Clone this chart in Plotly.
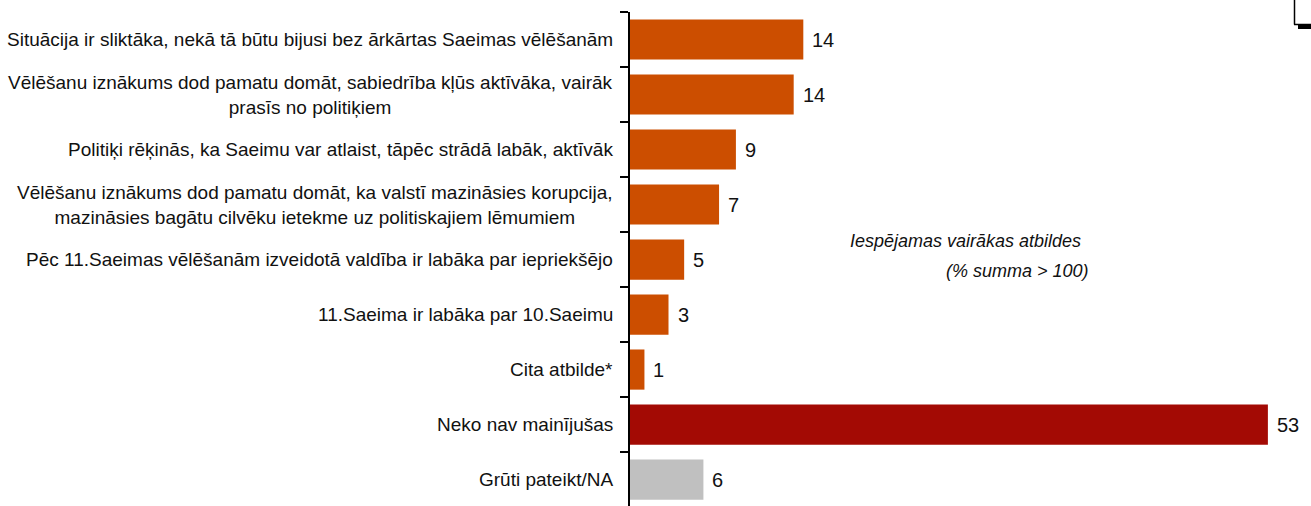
import plotly.graph_objects as go

categories = [
    "Situācija ir sliktāka, nekā tā būtu bijusi bez ārkārtas Saeimas vēlēšanām",
    "Vēlēšanu iznākums dod pamatu domāt, sabiedrība kļūs aktīvāka, vairāk<br>prasīs no politiķiem",
    "Politiķi rēķinās, ka Saeimu var atlaist, tāpēc strādā labāk, aktīvāk",
    "Vēlēšanu iznākums dod pamatu domāt, ka valstī mazināsies korupcija,<br>mazināsies bagātu cilvēku ietekme uz politiskajiem lēmumiem",
    "Pēc 11.Saeimas vēlēšanām izveidotā valdība ir labāka par iepriekšējo",
    "11.Saeima ir labāka par 10.Saeimu",
    "Cita atbilde*",
    "Neko nav mainījušas",
    "Grūti pateikt/NA",
]
values = [14.4, 13.6, 8.8, 7.4, 4.5, 3.2, 1.2, 53.0, 6.1]
value_labels = ["14", "14", "9", "7", "5", "3", "1", "53", "6"]
bar_colors = ["#CC4E00"] * 7 + ["#A30A04", "#C0C0C0"]
note_lines = ["Iespējamas vairākas atbildes", "(% summa > 100)"]

FONT = "Liberation Sans, Arial, sans-serif"

W, H = 1311, 506
ML, MR, MT, MB = 630, 7, 12, 0
PW, PH = W - ML - MR, H - MT - MB


def px(x):
    return (x - ML) / PW


def py(y):
    return (H - MB - y) / PH


fig = go.Figure(go.Bar(
    x=values, y=categories, orientation="h",
    marker=dict(color=bar_colors, line=dict(width=0)),
    hoverinfo="skip",
))

annotations = []
for cat, v, lab in zip(categories, values, value_labels):
    annotations.append(dict(x=0, y=cat, xref="x", yref="y", text=cat, showarrow=False,
                            xanchor="right", align="center", xshift=-15,
                            font=dict(family=FONT, size=19, color="#111")))
    annotations.append(dict(x=v, y=cat, xref="x", yref="y", text=lab, showarrow=False,
                            xanchor="left", xshift=7,
                            font=dict(family=FONT, size=20, color="#111")))

annotations.append(dict(x=px(1083), y=py(241), xref="paper", yref="paper", text="<i>" + note_lines[0] + "</i>",
                        showarrow=False, xanchor="right", yanchor="middle",
                        font=dict(family=FONT, size=18, color="#111")))
annotations.append(dict(x=px(1091), y=py(271), xref="paper", yref="paper", text="<i>" + note_lines[1] + "</i>",
                        showarrow=False, xanchor="right", yanchor="middle",
                        font=dict(family=FONT, size=18, color="#111")))

shapes = [
    # partially visible text box at the top right corner
    dict(type="rect", xref="paper", yref="paper", x0=px(1298), x1=px(1313), y0=py(29), y1=py(24),
         fillcolor="black", line=dict(width=0)),
    dict(type="line", xref="paper", yref="paper", x0=px(1294.5), x1=px(1294.5), y0=py(-2), y1=py(24.5),
         line=dict(color="black", width=1.5)),
    dict(type="line", xref="paper", yref="paper", x0=px(1294), x1=px(1313), y0=py(24.5), y1=py(24.5),
         line=dict(color="black", width=1.5)),
]

fig.update_layout(
    width=W, height=H,
    margin=dict(l=ML, r=MR, t=MT, b=MB),
    paper_bgcolor="white", plot_bgcolor="white",
    bargap=0.27,
    showlegend=False,
    annotations=annotations,
    shapes=shapes,
    xaxis=dict(range=[0, 56], visible=False, fixedrange=True),
    yaxis=dict(type="category", categoryarray=categories, range=[8.48, -0.5],
               tickson="boundaries", ticks="outside", ticklen=8, tickwidth=2, tickcolor="black",
               showticklabels=False, showline=True, linecolor="black", linewidth=2,
               showgrid=False, zeroline=False, fixedrange=True),
)

fig.write_html("out.html", config={"displayModeBar": False},
               post_script="document.body.style.margin='0';document.body.style.overflow='hidden';")
